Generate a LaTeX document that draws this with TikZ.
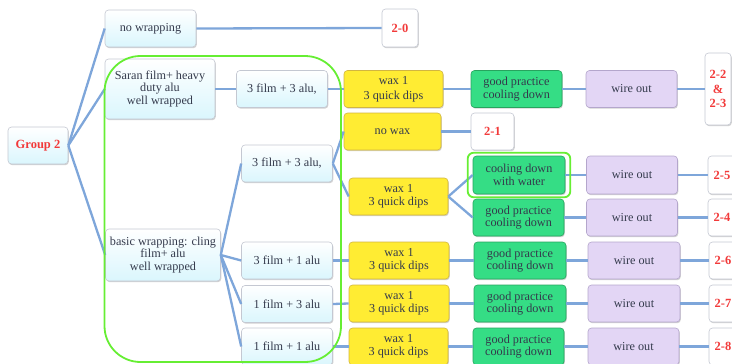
\documentclass[tikz,border=0pt]{standalone}
\usepackage{fontspec}
\setmainfont{Liberation Serif}
\usetikzlibrary{shadows,fit}
\definecolor{linec}{HTML}{7EA6DA}
\definecolor{txtc}{HTML}{343A4C}
\definecolor{redc}{HTML}{F23A3A}
\definecolor{wbord}{HTML}{C4C8D2}
\definecolor{wcyan}{HTML}{DAF6FD}
\definecolor{yfill}{HTML}{FFEC33}
\definecolor{ybord}{HTML}{D2B640}
\definecolor{gfill}{HTML}{35DD85}
\definecolor{gbord}{HTML}{27A45E}
\definecolor{lfill}{HTML}{E3D6F5}
\definecolor{lbord}{HTML}{B4A6CC}
\definecolor{frame}{HTML}{66EE33}
\newcommand\boxfont{\fontsize{12.2}{12.6}\selectfont}
\newcommand\boxfontb{\fontsize{12.5}{12.6}\selectfont\bfseries}
\begin{document}
\begin{tikzpicture}[x=1pt,y=-1pt,
  base/.style={rounded corners=3.5pt, align=center, inner sep=1pt, font=\boxfont, text=txtc,
    drop shadow={shadow xshift=0.8pt, shadow yshift=-1.2pt, fill=black, opacity=0.18}},
  plain/.style={base, draw=wbord, line width=0.6pt, top color=white, bottom color=wcyan},
  result/.style={base, draw=wbord, line width=0.6pt, fill=white, font=\boxfontb, text=redc},
  waxbox/.style={base, draw=ybord, line width=0.6pt, fill=yfill, minimum width=99, minimum height=37},
  coolbox/.style={base, draw=gbord, line width=0.6pt, fill=gfill, minimum width=91, minimum height=37},
  wirebox/.style={base, draw=lbord, line width=0.6pt, fill=lfill, minimum width=91, minimum height=37},
  mixbox/.style={plain, minimum width=91, minimum height=37},
  link/.style={draw=linec, line width=2.3pt},
  ring/.style={draw=frame, line width=1.8pt}]
\useasboundingbox (0,0) rectangle (732,364);

% root and first level
\node[plain, font=\boxfontb, text=redc, minimum width=60, minimum height=37] (g2) at (38,145.5) {Group 2};
\node[plain, minimum width=91, minimum height=37] (nowrap) at (150.5,28.5) {no wrapping};
\node[plain, minimum width=110, minimum height=60] (saran) at (160,89) {Saran film+ heavy\\duty alu\\well wrapped};
\node[plain, minimum width=115, minimum height=52] (basic) at (163,255) {basic wrapping: cling\\film+ alu\\well wrapped};

% no wrapping branch
\node[result, minimum width=36, minimum height=38] (r20) at (400,28) {2-0};

% Saran branch
\node[mixbox] (f33a) at (282,89) {3 film + 3 alu,};
\node[waxbox] (waxa) at (393.5,89) {wax 1\\[2pt]3 quick dips};
\node[coolbox] (gpa) at (516.5,89) {good practice\\cooling down};
\node[wirebox] (woa) at (631.5,89) {wire out};
\node[result, minimum width=26, minimum height=72] (r223) at (718,89) {2-2\\[2pt]\&\\[2pt]2-3};

% basic wrapping branch
\node[mixbox] (f33b) at (287,163.5) {3 film + 3 alu,};
\node[waxbox, minimum width=97] (nowax) at (392.5,131.5) {no wax};
\node[result, minimum width=43, minimum height=37] (r21) at (492.5,131.5) {2-1};
\node[waxbox] (waxb) at (398.5,196.5) {wax 1\\3 quick dips};
\node[coolbox, minimum width=92, minimum height=38] (cdw) at (519,175) {cooling down\\with water};
\node[wirebox, minimum height=38] (wob) at (632,175) {wire out};
\node[result, minimum width=28, minimum height=38] (r25) at (722,175) {2-5};
\node[coolbox] (gpb) at (518.5,217.5) {good practice\\cooling down};
\node[wirebox] (wob2) at (632,217.5) {wire out};
\node[result, minimum width=28, minimum height=37] (r24) at (722,217.5) {2-4};

\node[mixbox] (f31) at (287,260.5) {3 film + 1 alu};
\node[waxbox, minimum width=100] (waxc) at (399,260.5) {wax 1\\3 quick dips};
\node[coolbox, minimum width=92] (gpc) at (520,260.5) {good practice\\cooling down};
\node[wirebox, minimum width=92] (woc) at (634,260.5) {wire out};
\node[result, minimum width=28, minimum height=37] (r26) at (723,260.5) {2-6};

\node[mixbox] (f13) at (287,304) {1 film + 3 alu};
\node[waxbox, minimum width=100] (waxd) at (399,303.5) {wax 1\\3 quick dips};
\node[coolbox, minimum width=92] (gpd) at (520,303.5) {good practice\\cooling down};
\node[wirebox, minimum width=92] (wod) at (634,303.5) {wire out};
\node[result, minimum width=28, minimum height=37] (r27) at (723,303.5) {2-7};

\node[mixbox] (f11) at (287,346.5) {1 film + 1 alu};
\node[waxbox] (waxe) at (398.5,346.5) {wax 1\\3 quick dips};
\node[coolbox] (gpe) at (518.5,346.5) {good practice\\cooling down};
\node[wirebox] (woe) at (633.5,346.5) {wire out};
\node[result, minimum width=28, minimum height=37] (r28) at (723,346.5) {2-8};

% connectors
\draw[link] (g2.east) -- (nowrap.west);
\draw[link] (g2.east) -- (saran.west);
\draw[link] (g2.east) -- (basic.west);
\draw[link] (nowrap.east) -- (r20.west);
\draw[link] (saran.east) -- (f33a.west);
\draw[link] (f33a.east) -- (waxa.west);
\draw[link] (waxa.east) -- (gpa.west);
\draw[link] (gpa.east) -- (woa.west);
\draw[link] (woa.east) -- (r223.west);
\draw[link] (basic.east) -- (f33b.west);
\draw[link] (basic.east) -- (f31.west);
\draw[link] (basic.east) -- (f13.west);
\draw[link] (basic.east) -- (f11.west);
\draw[link] (f33b.east) -- (nowax.west);
\draw[link] (f33b.east) -- (waxb.west);
\draw[link] (nowax.east) -- (r21.west);
\draw[link] (waxb.east) -- (cdw.west);
\draw[link] (waxb.east) -- (gpb.west);
\draw[link] (cdw.east) -- (wob.west);
\draw[link] (wob.east) -- (r25.west);
\draw[link] (gpb.east) -- (wob2.west);
\draw[link] (wob2.east) -- (r24.west);
\draw[link] (f31.east) -- (waxc.west);
\draw[link] (waxc.east) -- (gpc.west);
\draw[link] (gpc.east) -- (woc.west);
\draw[link] (woc.east) -- (r26.west);
\draw[link] (f13.east) -- (waxd.west);
\draw[link] (waxd.east) -- (gpd.west);
\draw[link] (gpd.east) -- (wod.west);
\draw[link] (wod.east) -- (r27.west);
\draw[link] (f11.east) -- (waxe.west);
\draw[link] (waxe.east) -- (gpe.west);
\draw[link] (gpe.east) -- (woe.west);
\draw[link] (woe.east) -- (r28.west);

% highlight outlines
\node[ring, rounded corners=6pt, fit=(cdw), inner xsep=5pt, inner ysep=3pt] (cdwring) {};
\draw[ring, rounded corners=36pt] (104.5,56) rectangle (341,362);
\end{tikzpicture}
\end{document}
